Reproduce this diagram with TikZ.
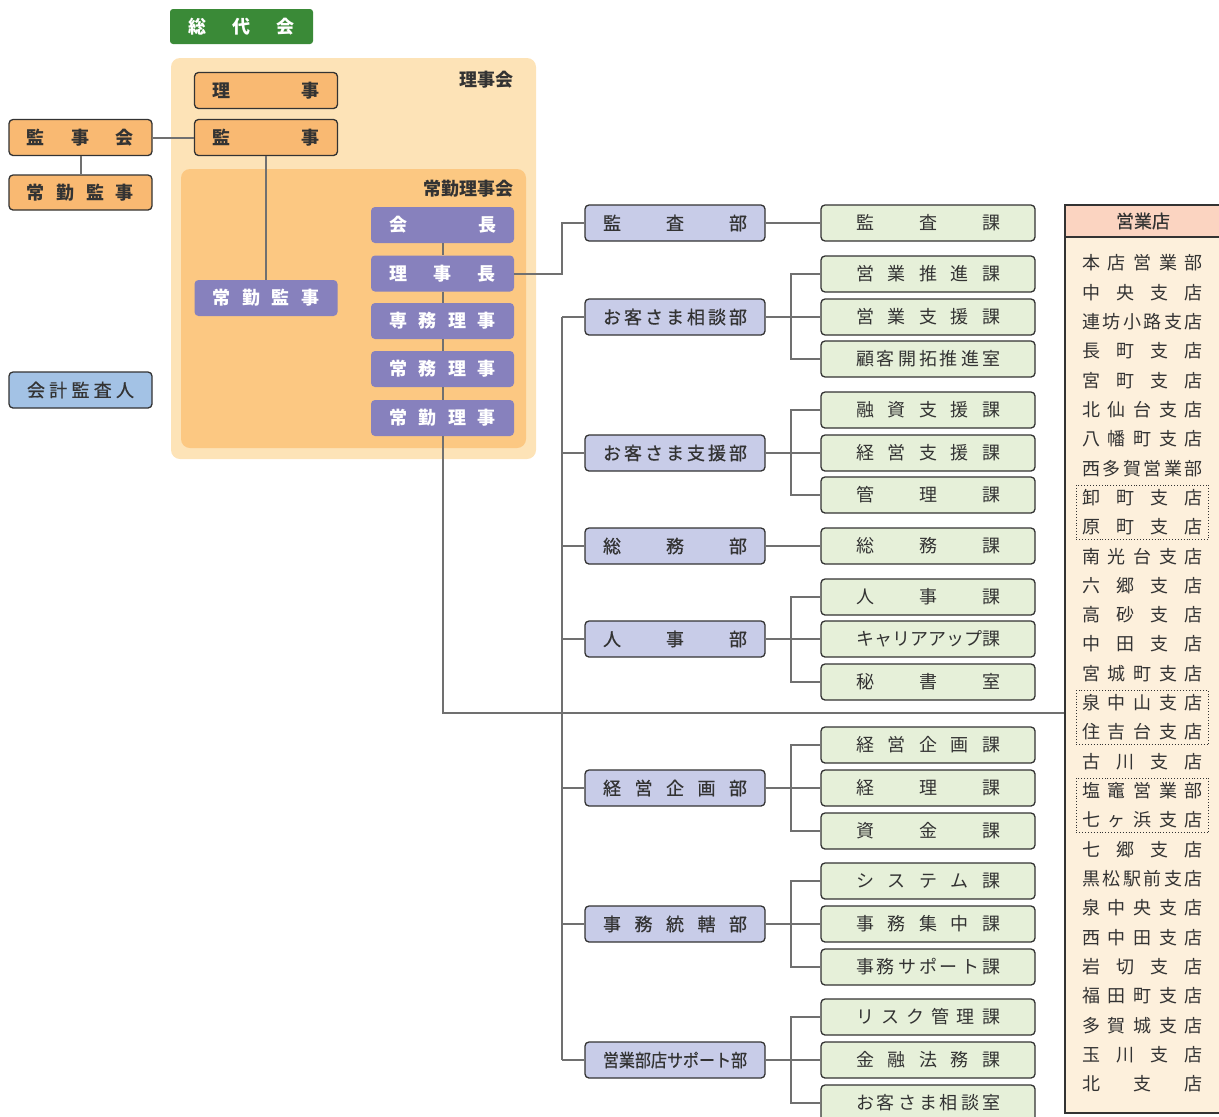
\documentclass[tikz,border=0pt]{standalone}
\usepackage{fontspec}
\setmainfont{Noto Sans CJK JP}
\newfontfamily\jpmed{Noto Sans CJK JP}[FakeBold=0.6]
\usepackage{graphicx}
\usetikzlibrary{positioning, fit, calc}
\definecolor{Green}{RGB}{58, 138, 55}
\definecolor{PanelOuter}{RGB}{253, 227, 183}
\definecolor{PanelInner}{RGB}{252, 200, 130}
\definecolor{Orange}{RGB}{249, 185, 114}
\definecolor{Purple}{RGB}{135, 129, 189}
\definecolor{Dept}{RGB}{200, 204, 232}
\definecolor{Sect}{RGB}{230, 240, 217}
\definecolor{Auditor}{RGB}{163, 194, 229}
\definecolor{ShopHead}{RGB}{251, 212, 193}
\definecolor{ShopBody}{RGB}{253, 240, 220}
\definecolor{Ink}{RGB}{51, 51, 51}
\definecolor{Wire}{RGB}{112, 112, 112}

% spread the characters of #2 over a width of #1
\makeatletter
\newcommand\spreadtxt[2]{\makebox[#1]{\expandafter\sp@first#2\@nil}}
\def\sp@first#1{#1\sp@rest}
\def\sp@rest#1{\ifx#1\@nil\else\hfill#1\expandafter\sp@rest\fi}
\makeatother

\tikzset{
    base/.style={rounded corners=4pt, inner sep=0pt, text=Ink, font=\fontsize{18}{20}\selectfont},
    greenbox/.style={base, fill=Green, text=white, minimum width=143pt, minimum height=35pt, rounded corners=3pt, font=\bfseries\fontsize{18}{20}\selectfont},
    orangebox/.style={base, fill=Orange, draw=Ink, line width=1.3pt, minimum width=143pt, minimum height=36pt, font=\bfseries\fontsize{18}{20}\selectfont},
    purplebox/.style={base, fill=Purple, text=white, minimum width=143pt, minimum height=36pt, font=\bfseries\fontsize{18}{20}\selectfont},
    deptbox/.style={base, fill=Dept, draw=Ink, line width=1.3pt, minimum width=180pt, minimum height=36pt, font=\jpmed\fontsize{18}{20}\selectfont},
    sectbox/.style={base, fill=Sect, draw=Ink, line width=1.3pt, minimum width=214pt, minimum height=36pt},
    boardlabel/.style={inner sep=0pt, text=Ink, font=\bfseries\fontsize{18}{20}\selectfont},
    shopitem/.style={inner sep=0pt, text=Ink, font=\fontsize{18}{20}\selectfont},
    pairbox/.style={draw=Ink, dotted, line width=0.9pt, inner xsep=6pt, inner ysep=4pt},
    wire/.style={draw=Wire, line width=2pt}
}

\begin{document}
\begin{tikzpicture}[x=1pt, y=-1pt]
    \useasboundingbox (0,0) rectangle (1219,1117);

    % Boards
    \fill[PanelOuter, rounded corners=9pt] (171,58) rectangle (536,459);
    \fill[PanelInner, rounded corners=9pt] (181,169) rectangle (526,448);
    \node[boardlabel, anchor=east] (rijikai) at (514,80) {理事会};
    \node[boardlabel, anchor=east] (jokinrijikai) at (514,189) {常勤理事会};

    % Top of the organisation
    \node[greenbox] (sodaikai) at (241.5,26.5) {\spreadtxt{107pt}{総代会}};
    \node[orangebox] (riji) at (266,90.5) {\spreadtxt{107pt}{理事}};
    \node[orangebox] (kanji) at (266,137.5) {\spreadtxt{107pt}{監事}};
    \node[orangebox] (kanjikai) at (80.5,137.5) {\spreadtxt{107pt}{監事会}};
    \node[orangebox, minimum height=35pt] (jokinkanji-l) at (80.5,192.5) {\spreadtxt{107pt}{常勤監事}};
    \node[orangebox, fill=Auditor, font=\jpmed\fontsize{18}{20}\selectfont] (kaikei) at (80.5,390) {\spreadtxt{107pt}{会計監査人}};
    \node[purplebox] (jokinkanji-p) at (266,298) {\spreadtxt{107pt}{常勤監事}};

    % Executives
    \node[purplebox] (kaicho) at (442.5,225) {\spreadtxt{107pt}{会長}};
    \node[purplebox] (rijicho) at (442.5,273.5) {\spreadtxt{107pt}{理事長}};
    \node[purplebox] (senmu) at (442.5,321) {\spreadtxt{107pt}{専務理事}};
    \node[purplebox] (jomu) at (442.5,369) {\spreadtxt{107pt}{常務理事}};
    \node[purplebox] (jokinriji) at (442.5,418) {\spreadtxt{107pt}{常勤理事}};

    % Departments
    \node[deptbox] (d1) at (675,223) {\spreadtxt{144pt}{監査部}};
    \node[deptbox] (d2) at (675,317) {\spreadtxt{144pt}{お客さま相談部}};
    \node[deptbox] (d3) at (675,453) {\spreadtxt{144pt}{お客さま支援部}};
    \node[deptbox] (d4) at (675,546) {\spreadtxt{144pt}{総務部}};
    \node[deptbox] (d5) at (675,639) {\spreadtxt{144pt}{人事部}};
    \node[deptbox] (d6) at (675,788) {\spreadtxt{144pt}{経営企画部}};
    \node[deptbox] (d7) at (675,924) {\spreadtxt{144pt}{事務統轄部}};
    \node[deptbox] (d8) at (675,1060) {\scalebox{0.89}[1]{営業部店サポート部}};

    % Sections
    \foreach \y/\sect [count=\i] in {223/監査課, 274/営業推進課, 317/営業支援課, 359/顧客開拓推進室,
        410/融資支援課, 453/経営支援課, 495/管理課, 546/総務課,
        597/人事課, 639/キャリアアップ課, 682/秘書室,
        745/経営企画課, 788/経理課, 831/資金課,
        881/システム課, 924/事務集中課, 967/事務サポート課,
        1017/リスク管理課, 1060/金融法務課, 1103/お客さま相談室}
        \node[sectbox] (sec-\i) at (928,\y) {\spreadtxt{144pt}{\sect}};

    % Branches
    \node[base, rounded corners=0pt, fill=ShopBody, draw=Ink, line width=1.2pt, minimum width=156pt, minimum height=876pt] (shops) at (1143,675) {};
    \node[base, rounded corners=0pt, fill=ShopHead, draw=Ink, line width=1.2pt, minimum width=156pt, minimum height=32pt, font=\jpmed\fontsize{18}{20}\selectfont] (shophead) at (1143,221) {営業店};
    \foreach \shop [count=\i from 0] in {本店営業部, 中央支店, 連坊小路支店, 長町支店, 宮町支店,
        北仙台支店, 八幡町支店, 西多賀営業部, 卸町支店, 原町支店, 南光台支店, 六郷支店,
        高砂支店, 中田支店, 宮城町支店, 泉中山支店, 住吉台支店, 古川支店, 塩竈営業部,
        七ヶ浜支店, 七郷支店, 黒松駅前支店, 泉中央支店, 西中田支店, 岩切支店, 福田町支店,
        多賀城支店, 玉川支店, 北支店}
        \node[shopitem] (shop-\i) at (1142.5,{263+29.32*\i}) {\spreadtxt{120pt}{\shop}};
    \node[pairbox, fit=(shop-8)(shop-9)] (pair-a) {};
    \node[pairbox, fit=(shop-15)(shop-16)] (pair-b) {};
    \node[pairbox, fit=(shop-18)(shop-19)] (pair-c) {};

    % Connectors
    \coordinate (trunk) at (562,0);
    \coordinate (fork) at (791,0);
    \coordinate (jct) at (442.5,713);
    \draw[wire] (kanjikai) -- (kanji);
    \draw[wire] (kanjikai) -- (jokinkanji-l);
    \draw[wire] (kanji) -- (jokinkanji-p);
    \draw[wire] (kaicho) -- (rijicho) -- (senmu) -- (jomu) -- (jokinriji);
    \draw[wire] (jokinriji.south) -- (jct) -- (jct -| shops.west);
    \draw[wire] (rijicho.east) -- (rijicho.east -| trunk) |- (d1.west);
    \draw[wire] (d2.west -| trunk) -- (d8.west -| trunk);
    \foreach \d in {d2,d3,d4,d5,d6,d7,d8}
        \draw[wire] (\d.west) -- (\d.west -| trunk);
    \draw[wire] (d1) -- (sec-1);
    \draw[wire] (d4) -- (sec-8);
    \foreach \d/\a/\b/\c in {d2/2/3/4, d3/5/6/7, d5/9/10/11, d6/12/13/14, d7/15/16/17, d8/18/19/20} {
        \draw[wire] (\d) -- (sec-\b);
        \draw[wire] (sec-\a.west) -- (sec-\a.west -| fork) -- (sec-\c.west -| fork) -- (sec-\c.west);
    }
\end{tikzpicture}
\end{document}
